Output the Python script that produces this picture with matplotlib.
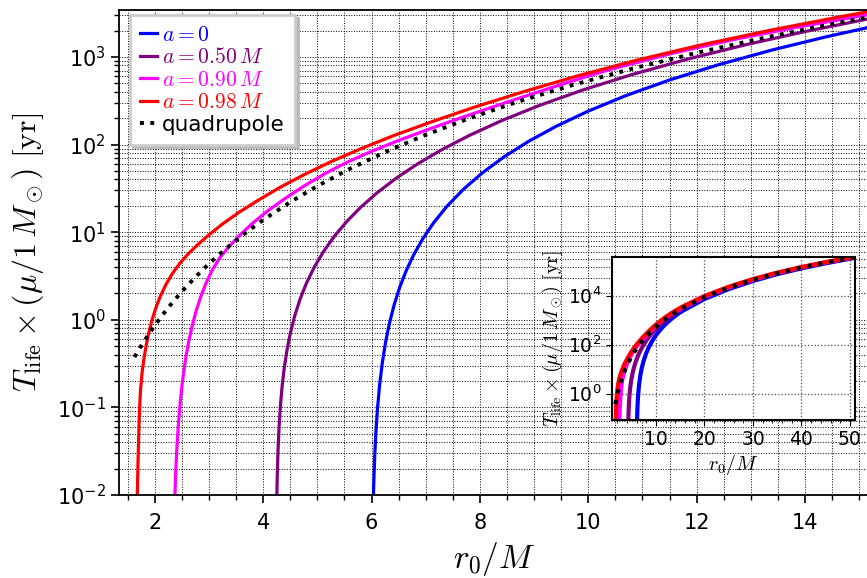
import numpy as np
import matplotlib
matplotlib.use('Agg')
import matplotlib.pyplot as plt
from matplotlib.ticker import MultipleLocator, LogLocator, NullFormatter, NullLocator

plt.rcParams['mathtext.fontset'] = 'cm'

#--- dados (r0/M, T_life em anos) -----------------------------------------------
r_a0 = [6.03, 6.04, 6.06, 6.08, 6.11, 6.15, 6.2, 6.26, 6.33, 6.42, 6.52, 6.64, 6.78, 6.95, 7.15, 7.4,
        7.7, 8.05, 8.45, 8.9, 9.4, 10.0, 10.7, 11.5, 12.4, 13.4, 14.4, 15.2,
        20, 25, 30, 35, 40, 45, 51]
T_a0 = [0.00705, 0.01255, 0.02835, 0.0506, 0.0963, 0.1806, 0.3245, 0.5553, 0.9074, 1.497, 2.342,
        3.633, 5.541, 8.488, 12.90, 20.0, 31.03, 47.8, 72.7, 109.0, 160.8, 241.1, 363.4, 546.1,
        815.3, 1205, 1705, 2193,
        7200, 18200, 39000, 74000, 127000, 204000, 343000]

r_a05 = [4.245, 4.25, 4.26, 4.275, 4.295, 4.32, 4.35, 4.39, 4.44, 4.5, 4.58, 4.68, 4.8, 4.95, 5.12,
         5.32, 5.55, 5.8, 6.1, 6.45, 6.85, 7.3, 7.8, 8.4, 9.1, 9.9, 10.8, 11.8, 12.9, 14.0, 15.2,
         20, 25, 30, 35, 40, 45, 51]
T_a05 = [0.00429, 0.00752, 0.01586, 0.03243, 0.06107, 0.1063, 0.1733, 0.2826, 0.4497, 0.694, 1.093,
         1.709, 2.627, 4.058, 6.087, 9.076, 13.39, 19.24, 28.06, 41.12, 60.20, 87.66, 126.8, 187.5,
         280.2, 420.2, 628.4, 934.1, 1377, 1951, 2748,
         8500, 20700, 43400, 81000, 137000, 218000, 362000]

r_a09 = [2.36, 2.375, 2.39, 2.41, 2.435, 2.47, 2.515, 2.565, 2.625, 2.69, 2.765, 2.85, 2.95, 3.06,
         3.215, 3.37, 3.585, 3.8, 4.105, 4.41, 4.78, 5.15, 5.55, 5.95, 6.48, 7.01, 7.625, 8.24,
         8.855, 9.47, 9.93, 10.39, 11.55, 12.715, 13.88, 15.04, 15.3,
         20, 25, 30, 35, 40, 45, 51]
T_a09 = [0.0054, 0.0114, 0.0200, 0.0357, 0.0626, 0.1146, 0.2069, 0.3444, 0.5587, 0.8521, 1.269,
         1.843, 2.650, 3.698, 5.258, 6.823, 9.454, 12.59, 17.89, 24.38, 34.43, 46.99, 62.88, 81.28,
         110.3, 146.2, 199.7, 269.2, 360.4, 478.6, 588.8, 716.1, 1103, 1597, 2204, 2951, 3141,
         9016, 21770, 44830, 82650, 140400, 224300, 369200]

r_a098 = [1.675, 1.688, 1.70, 1.715, 1.735, 1.765, 1.8, 1.84, 1.89, 1.95, 2.02, 2.1, 2.2, 2.32, 2.46,
          2.62, 2.8, 3.0, 3.25, 3.55, 3.9, 4.3, 4.75, 5.25, 5.8, 6.4, 7.1, 7.9, 8.8, 9.8, 10.9,
          12.1, 13.4, 14.7, 15.3,
          20, 25, 30, 35, 40, 45, 51]
T_a098 = [0.00794, 0.01995, 0.0398, 0.0794, 0.1514, 0.2469, 0.3577, 0.5037, 0.7123, 0.9968, 1.369,
          1.841, 2.488, 3.333, 4.395, 5.682, 7.271, 9.32, 12.40, 16.79, 22.98, 32.20, 45.16, 63.77,
          89.48, 126.1, 181.2, 267.6, 400.8, 608.0, 921.8, 1381, 2044, 2919, 3402,
          9550, 22800, 46710, 85560, 144300, 230100, 377000]

r_quad = [1.625, 1.7, 1.8, 1.9, 2.0, 2.15, 2.3, 2.5, 2.75, 3.0, 3.3, 3.65, 4.0, 4.5, 5.0, 5.6, 6.3,
          7.0, 7.8, 8.7, 9.7, 10.8, 12.0, 13.3, 14.6, 15.3,
          20, 25, 30, 35, 40, 45, 51]
T_quad = [0.3754, 0.4496, 0.5651, 0.7015, 0.8613, 1.150, 1.506, 2.103, 3.079, 4.360, 6.384, 9.554,
          13.78, 22.07, 33.64, 52.94, 84.80, 129.2, 199.3, 308.4, 476.6, 732.4, 1116, 1684, 2446, 2950,
          8613, 21030, 43600, 80780, 137800, 220700, 364200]

spins = [r'$a=0$', r'$a=0.50\,M$', r'$a=0.90\,M$', r'$a=0.98\,M$']
colors = ['#0000ff', '#800080', '#ff00ff', '#ff0000']
curves = [(r_a0, T_a0), (r_a05, T_a05), (r_a09, T_a09), (r_a098, T_a098)]

ylab = r'$T_{\rm life}\times\left(\mu/1\,M_\odot\right)\ [{\rm yr}]$'

fig = plt.figure(figsize=(8.67, 5.78), dpi=100)
ax = fig.add_axes([119/867, 83/578, 751/867, 485/578])

for (r, T), c, lab in zip(curves, colors, spins):
    ax.plot(r, T, color=c, lw=2.3, label=lab)
ax.plot(r_quad, T_quad, color='k', ls=':', lw=2.8, label='quadrupole')

ax.set_yscale('log')
ax.set_xlim(1.34, 15.2)
ax.set_ylim(0.01, 3440)
ax.xaxis.set_major_locator(MultipleLocator(2))
ax.xaxis.set_minor_locator(MultipleLocator(0.5))
ax.yaxis.set_minor_locator(LogLocator(base=10, subs=np.arange(2, 10), numticks=20))
ax.yaxis.set_minor_formatter(NullFormatter())
ax.grid(True, which='both', color='k', ls=':', lw=0.7)
ax.tick_params(which='both', direction='out', labelsize=15, top=False, right=False)
ax.tick_params(axis='x', which='major', pad=7)
ax.tick_params(which='major', length=6, width=1.2)
ax.tick_params(which='minor', length=3.5, width=1)
for s in ax.spines.values():
    s.set_linewidth(1.3)
ax.set_xlabel(r'$r_0/M$', fontsize=24, labelpad=5)
ax.set_ylabel(ylab, fontsize=23, labelpad=8)

leg = ax.legend(loc='upper left', bbox_to_anchor=(11/751, 1 - 5/485), borderaxespad=0,
                fontsize=15.5, handlelength=0.8, handletextpad=0.25, labelspacing=0.12,
                borderpad=0.45, fancybox=False, framealpha=1, edgecolor='0.8',
                shadow={'color': '0.72', 'alpha': 1})
leg.get_frame().set_linewidth(2)
for t, c in zip(leg.get_texts(), colors + ['k']):
    t.set_color(c)

#--- inset ---------------------------------------------------------------------
axi = fig.add_axes([612/867, 158/578, 243/867, 163/578])
for (r, T), c in zip(curves, colors):
    axi.plot(r, T, color=c, lw=3)
axi.plot(r_quad, T_quad, color='k', ls=':', lw=3)
axi.set_yscale('log')
axi.set_xlim(0.93, 51.05)
axi.set_ylim(0.085, 3.7e5)
axi.set_xticks([10, 20, 30, 40, 50])
axi.xaxis.set_minor_locator(MultipleLocator(2))
axi.yaxis.set_major_locator(LogLocator(base=100, numticks=10))
axi.yaxis.set_minor_locator(NullLocator())
axi.grid(True, which='major', color='0.3', ls=':', lw=0.9)
axi.tick_params(which='both', direction='out', labelsize=13.5)
axi.tick_params(which='major', length=4)
axi.tick_params(which='minor', length=2)
for s in axi.spines.values():
    s.set_linewidth(1.5)
axi.set_xlabel(r'$r_0/M$', fontsize=14.5, labelpad=2)
axi.set_ylabel(ylab, fontsize=14.5, labelpad=2)

fig.savefig('out.png', dpi=100)
